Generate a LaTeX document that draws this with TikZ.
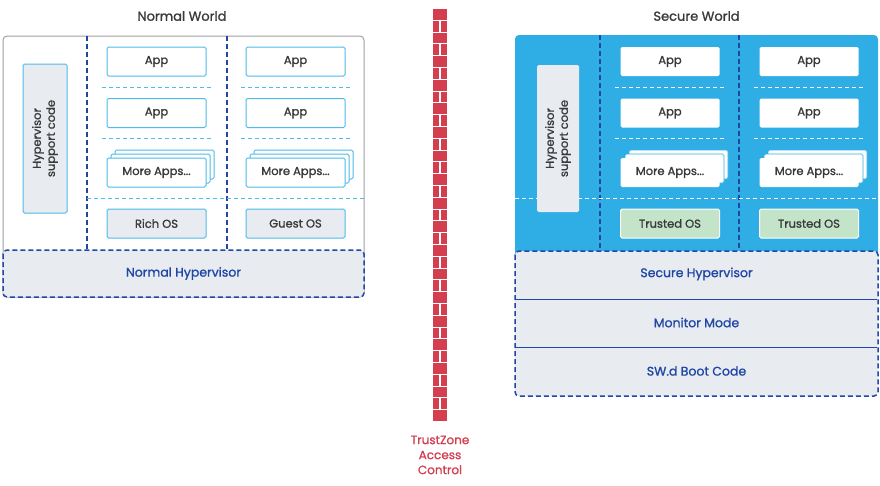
\documentclass[tikz,border=0pt]{standalone}
\usepackage{fontspec}
\setmainfont{Poppins}[FakeBold=1.2]
\usetikzlibrary{positioning}
\definecolor{txtgrey}{HTML}{3A3A3A}
\definecolor{hypblue}{HTML}{2147A6}
\definecolor{lightblue}{HTML}{4DBBEB}
\definecolor{boxgrey}{HTML}{E8EBEF}
\definecolor{secblue}{HTML}{2FADE5}
\definecolor{trustgreen}{HTML}{C4E4CA}
\definecolor{brickred}{HTML}{D43F50}
\definecolor{outergrey}{HTML}{A0A0A0}
\tikzset{
    world title/.style={font=\fontsize{13}{15}\selectfont, text=txtgrey},
    outer normal/.style={draw=outergrey, line width=1pt, fill=white, rounded corners=4pt},
    column line/.style={draw=hypblue, line width=1.5pt, dash pattern=on 5pt off 3pt},
    app sep/.style={draw=lightblue, line width=1pt, dash pattern=on 4pt off 3pt},
    sec sep/.style={draw=white, line width=1pt, dash pattern=on 4pt off 3pt},
    appbox/.style={draw=lightblue, fill=white, line width=1pt, rounded corners=1.5pt,
        minimum width=99pt, minimum height=29pt, inner sep=0pt,
        font=\fontsize{11.5}{13}\selectfont, text=txtgrey},
    secapp/.style={appbox, draw=none},
    stack/.style={draw=lightblue, fill=white, line width=1pt, rounded corners=1.5pt},
    secstack/.style={fill=white, draw=secblue, line width=0.6pt, rounded corners=1.5pt},
    osbox/.style={appbox, fill=boxgrey},
    trustbox/.style={appbox, fill=trustgreen, draw=white},
    support box/.style={draw=lightblue, fill=boxgrey, line width=1pt, rounded corners=1.5pt,
        rotate=90, align=center, minimum width=149pt, minimum height=44pt, inner sep=0pt,
        font=\fontsize{11.5}{14}\selectfont, text=txtgrey},
    hyp box/.style={draw=hypblue, fill=boxgrey, line width=1.5pt, dash pattern=on 5pt off 3pt,
        rounded corners=4pt},
    hyp text/.style={font=\fontsize{12.5}{14}\selectfont, text=hypblue},
    brick/.style={fill=brickred},
    tz text/.style={font=\fontsize{12}{15}\selectfont, text=brickred, align=center}
}
\begin{document}
\begin{tikzpicture}[x=1pt,y=-1pt]
\useasboundingbox (0,0) rectangle (880,485);

% normal world
\node[world title] (normal title) at (182,16) {Normal World};
\draw[outer normal] (3,36) rectangle (364,297);
\foreach \x in {87,227}
    \draw[column line] (\x,36) -- (\x,250);
\foreach \y in {87,138} {
    \draw[app sep] (102,\y) -- (212,\y);
    \draw[app sep] (241,\y) -- (351,\y);
}
\draw[app sep] (87,198) -- (364,198);
\node[support box] (normal support) at (45,138.5) {Hypervisor\\support code};
\foreach \cx/\os/\nm in {156.5/Rich OS/rich, 295.5/Guest OS/guest} {
    \node[appbox] (app1-\nm) at (\cx,61.5) {App};
    \node[appbox] (app2-\nm) at (\cx,113) {App};
    \draw[stack] (\cx-41.5,150) rectangle (\cx+57.5,179);
    \draw[stack] (\cx-45.5,154) rectangle (\cx+53.5,183);
    \node[appbox] (more-\nm) at (\cx,172.5) {More Apps...};
    \node[osbox] (os-\nm) at (\cx,223.5) {\os};
}
\draw[hyp box] (3,250) rectangle (364,297);
\node[hyp text] (normal hyp) at (183.5,273.5) {Normal Hypervisor};

% trustzone wall
\foreach \i in {0,...,17}
    \fill[brick] (433,9+\i*23.6) rectangle (447,19.8+\i*23.6);
\foreach \i in {0,...,16} {
    \fill[brick] (433,20.8+\i*23.6) rectangle (439.4,31.6+\i*23.6);
    \fill[brick] (440.6,20.8+\i*23.6) rectangle (447,31.6+\i*23.6);
}
\node[tz text] (tz label) at (440,455) {TrustZone\\Access\\Control};

% secure world
\node[world title] (secure title) at (696.5,16) {Secure World};
\fill[secblue, rounded corners=4pt] (515,35) rectangle (878,262);
\foreach \x in {600,739}
    \draw[column line] (\x,35) -- (\x,251);
\foreach \y in {87,138} {
    \draw[sec sep] (615,\y) -- (726,\y);
    \draw[sec sep] (754,\y) -- (865,\y);
}
\draw[sec sep] (515,198) -- (878,198);
\node[support box, draw=none, minimum width=147pt, minimum height=42pt] (secure support) at (558,138.5) {Hypervisor\\support code};
\foreach \cx/\nm in {670/t1, 809/t2} {
    \node[secapp] (app1-\nm) at (\cx,61.5) {App};
    \node[secapp] (app2-\nm) at (\cx,113) {App};
    \draw[secstack] (\cx-41,150) rectangle (\cx+58,179);
    \draw[secstack] (\cx-45,154) rectangle (\cx+54,183);
    \node[secapp] (more-\nm) at (\cx,172.5) {More Apps...};
    \node[trustbox] (os-\nm) at (\cx,223.5) {Trusted OS};
}
\draw[hyp box] (515,251) rectangle (878,396);
\draw[hypblue, line width=1pt] (516,299) -- (877,299);
\draw[hypblue, line width=1pt] (516,347) -- (877,347);
\node[hyp text] (secure hyp) at (696.5,274) {Secure Hypervisor};
\node[hyp text] (monitor) at (696.5,322.5) {Monitor Mode};
\node[hyp text] (boot code) at (696.5,371) {SW.d Boot Code};
\end{tikzpicture}
\end{document}
